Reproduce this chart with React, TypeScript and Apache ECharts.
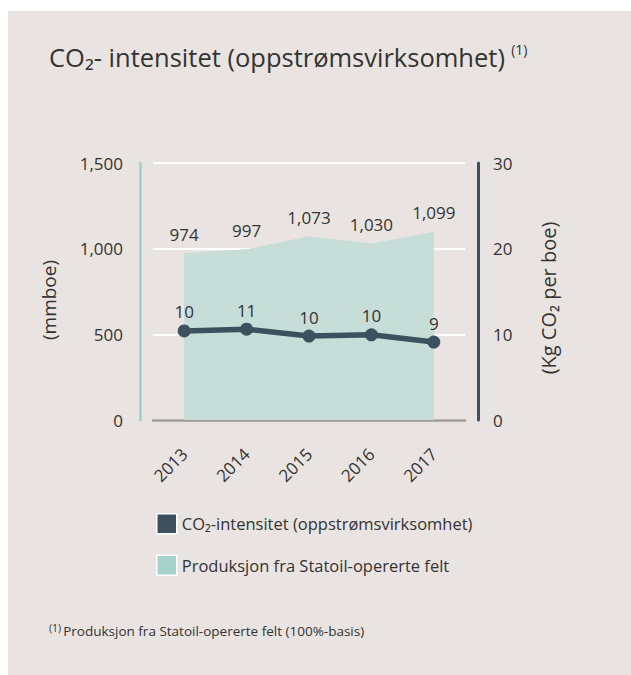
import React, { useEffect, useRef } from "react";
import * as echarts from "echarts";

const years = ["2013", "2014", "2015", "2016", "2017"];
const production = [974, 997, 1073, 1030, 1099];
const intensity = [10.4, 10.6, 9.8, 9.95, 9.1];
const leftTicks = { min: 0, max: 1500, interval: 500 };
const rightTicks = { min: 0, max: 30, interval: 10 };

const titleText = "CO₂- intensitet (oppstrømsvirksomhet)";
const lineName = "CO₂-intensitet (oppstrømsvirksomhet)";
const areaName = "Produksjon fra Statoil-opererte felt";
const footnote = "Produksjon fra Statoil-opererte felt (100%-basis)";

const FONT = "'Open Sans', 'Noto Sans', 'DejaVu Sans', sans-serif";
const TXT = "#333333";
const DARK = "#3d505f";
const TEAL_AREA = "#c6ddd8";
const TEAL_ICON = "#a5d3cb";
const TEAL_AXIS = "#9fd0c9";

export default function App() {
  const ref = useRef<HTMLDivElement>(null);
  useEffect(() => {
    if (!ref.current) return;
    const chart = echarts.init(ref.current, undefined, { renderer: "svg" });
    const fmt = (v: number) => v.toLocaleString("en-US");
    chart.setOption({
      animation: false,
      backgroundColor: "#ffffff",
      textStyle: { fontFamily: FONT, color: TXT },
      graphic: [
        { type: "rect", z: -10, shape: { x: 8, y: 11, width: 623, height: 664 }, style: { fill: "#e9e4e1" } },
        {
          type: "text", left: 49, top: 42,
          style: {
            text: "{m|" + titleText + "} {s|(1)}",
            rich: {
              m: { fontFamily: FONT, fontSize: 25.5, fill: TXT },
              s: { fontFamily: FONT, fontSize: 14, fill: TXT, padding: [0, 0, 15, 3] },
            },
          },
        },
        {
          type: "text", x: 49, y: 300, rotation: Math.PI / 2,
          style: { text: "(mmboe)", fontFamily: FONT, fontSize: 19, fill: TXT, align: "center", verticalAlign: "middle" },
        },
        {
          type: "text", x: 548, y: 298, rotation: Math.PI / 2,
          style: { text: "(Kg CO₂ per boe)", fontFamily: FONT, fontSize: 20, fill: TXT, align: "center", verticalAlign: "middle" },
        },
        {
          type: "text", left: 49, top: 622,
          style: {
            text: "{s|(1)}{m|" + footnote + "}",
            rich: {
              m: { fontFamily: FONT, fontSize: 13.5, fill: TXT, padding: [0, 0, 0, 2] },
              s: { fontFamily: FONT, fontSize: 10.5, fill: TXT, padding: [0, 0, 7, 0] },
            },
          },
        },
      ],
      legend: {
        orient: "vertical",
        left: 151,
        top: 508,
        itemWidth: 20,
        itemHeight: 20,
        itemGap: 20,
        icon: "rect",
        textStyle: { fontFamily: FONT, fontSize: 16.5, color: TXT },
        data: [
          { name: lineName, itemStyle: { color: DARK, borderColor: "#ffffff", borderWidth: 1.5 } },
          { name: areaName, itemStyle: { color: TEAL_ICON, borderColor: "#ffffff", borderWidth: 1.5 } },
        ],
      },
      grid: { left: 153, right: 166, top: 163, bottom: 255 },
      xAxis: {
        type: "category",
        data: years,
        boundaryGap: true,
        offset: 13,
        axisLine: { show: true, lineStyle: { color: "#a09c99", width: 2.5 } },
        axisTick: { show: false },
        axisLabel: { rotate: 45, fontFamily: FONT, fontSize: 17, color: TXT, margin: 18 },
      },
      yAxis: [
        {
          type: "value",
          ...leftTicks,
          position: "left",
          offset: 13,
          axisLine: { show: true, lineStyle: { color: TEAL_AXIS, width: 2.5 } },
          axisTick: { show: false },
          axisLabel: { fontFamily: FONT, fontSize: 17, color: TXT, margin: 17, formatter: (v: number) => fmt(v) },
          splitLine: { show: true, lineStyle: { color: "#ffffff", width: 2 } },
        },
        {
          type: "value",
          ...rightTicks,
          position: "right",
          offset: 13,
          axisLine: { show: true, lineStyle: { color: DARK, width: 3 } },
          axisTick: { show: false },
          axisLabel: { fontFamily: FONT, fontSize: 17, color: TXT, margin: 15 },
          splitLine: { show: false },
        },
      ],
      series: [
        {
          name: areaName,
          type: "line",
          yAxisIndex: 0,
          data: production,
          symbol: "circle",
          symbolSize: 1,
          showSymbol: true,
          lineStyle: { width: 0 },
          itemStyle: { color: TEAL_AREA },
          areaStyle: { color: TEAL_AREA, opacity: 1 },
          label: {
            show: true, position: "top", distance: 10,
            fontFamily: FONT, fontSize: 17, color: TXT,
            formatter: (p: any) => fmt(p.value),
          },
          z: 1,
        },
        {
          name: lineName,
          type: "line",
          yAxisIndex: 1,
          data: intensity,
          symbol: "circle",
          symbolSize: 13,
          lineStyle: { color: DARK, width: 5.5 },
          itemStyle: { color: DARK },
          label: {
            show: true, position: "top", distance: 4,
            fontFamily: FONT, fontSize: 17, color: TXT,
            formatter: (p: any) => String(Math.round(p.value)),
          },
          z: 3,
        },
      ],
    });
    return () => chart.dispose();
  }, []);
  return (
    <div
      ref={ref}
      style={{ position: "fixed", left: 0, top: 0, width: 631, height: 675 }}
    />
  );
}
